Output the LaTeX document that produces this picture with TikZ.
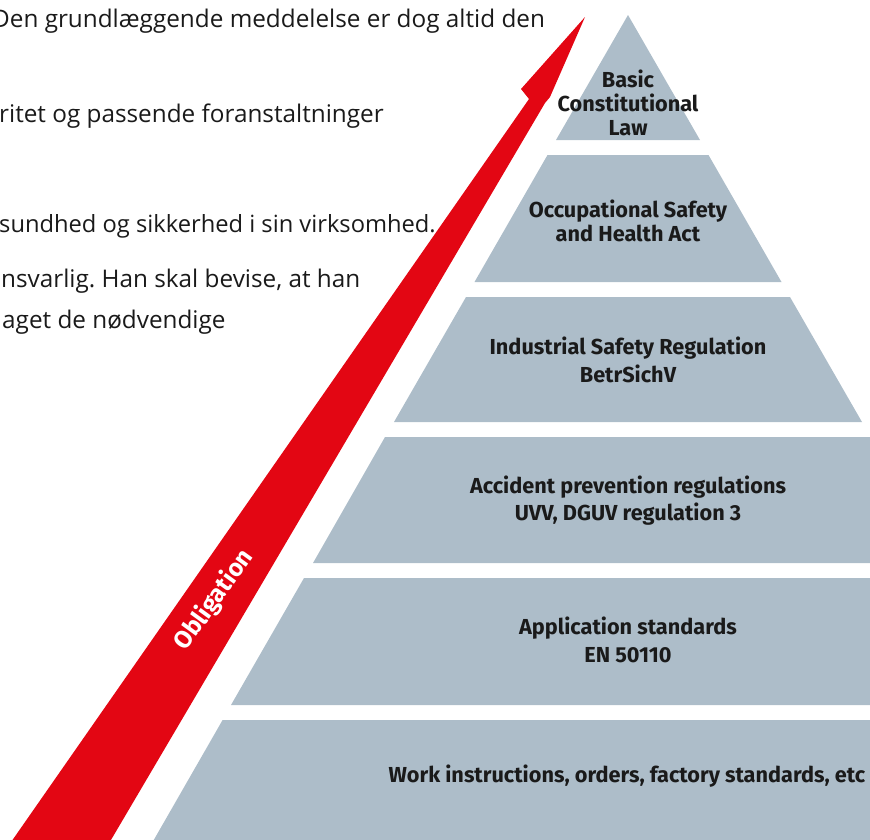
\documentclass[tikz,border=0pt]{standalone}
\usepackage{fontspec}
\setmainfont{Open Sans}
\newfontfamily\labelfont{Fira Sans}
\definecolor{pyr}{RGB}{173,189,201}
\definecolor{obl}{RGB}{227,6,19}
\definecolor{ink}{RGB}{26,26,26}
\frenchspacing
\begin{document}
\begin{tikzpicture}[x=1pt,y=-1pt,
  layer/.style={fill=pyr,draw=none},
  lab/.style={font=\labelfont\bfseries\fontsize{21.7}{24}\selectfont,text=ink,anchor=base,inner sep=0pt},
  body/.style={font=\fontsize{24.3}{28}\selectfont,text=ink,anchor=base west,inner sep=0pt},
  obltext/.style={font=\labelfont\bfseries\fontsize{24.5}{28}\selectfont,text=white,inner sep=0pt}]
\useasboundingbox (0,0) rectangle (870,839);
\clip (0,0) rectangle (870,839);
% body text
\node[body] (t1) at (-8,27) {Den grundlæggende meddelelse er dog altid den};
\node[body] (t2) at (-1,122) {ritet og passende foranstaltninger};
\node[body,font=\fontsize{23.7}{28}\selectfont] (t3) at (-1,232) {sundhed og sikkerhed i sin virksomhed.};
\node[body] (t4) at (1,287) {nsvarlig. Han skal bevise, at han};
\node[body] (t5) at (2,328) {aget de nødvendige};
% pyramid layers
\fill[layer] (628,15) -- (700,140) -- (556,140) -- cycle;
\fill[layer] (547.5,155) -- (708.5,155) -- (781.5,282) -- (474.5,282) -- cycle;
\fill[layer] (466,297) -- (790,297) -- (862,422) -- (394,422) -- cycle;
\fill[layer] (385,437) -- (880,437) -- (880,563) -- (313,563) -- cycle;
\fill[layer] (304,578) -- (880,578) -- (880,705) -- (231,705) -- cycle;
\fill[layer] (222.6,720) -- (880,720) -- (880,850) -- (148,850) -- cycle;
% labels
\node[lab] (a1) at (628,87) {Basic};
\node[lab] (a2) at (628,111) {Constitutional};
\node[lab] (a3) at (628,135) {Law};
\node[lab] (b1) at (628,217) {Occupational Safety};
\node[lab] (b2) at (628,241) {and Health Act};
\node[lab] (c1) at (628,354) {Industrial Safety Regulation};
\node[lab] (c2) at (628,382) {BetrSichV};
\node[lab] (d1) at (628,493) {Accident prevention regulations};
\node[lab] (d2) at (628,520) {UVV, DGUV regulation 3};
\node[lab] (e1) at (628,634) {Application standards};
\node[lab] (e2) at (628,662) {EN 50110};
\node[lab] (f1) at (627,782) {Work instructions, orders, factory standards, etc};
% arrow
\fill[obl] (585,17) -- (550,97) -- (545,103) -- (108,845) -- (9,845) -- (529,99) -- (521,89) -- cycle;
\node[obltext,rotate=54] (obl) at (214,600) {Obligation};
\end{tikzpicture}
\end{document}
